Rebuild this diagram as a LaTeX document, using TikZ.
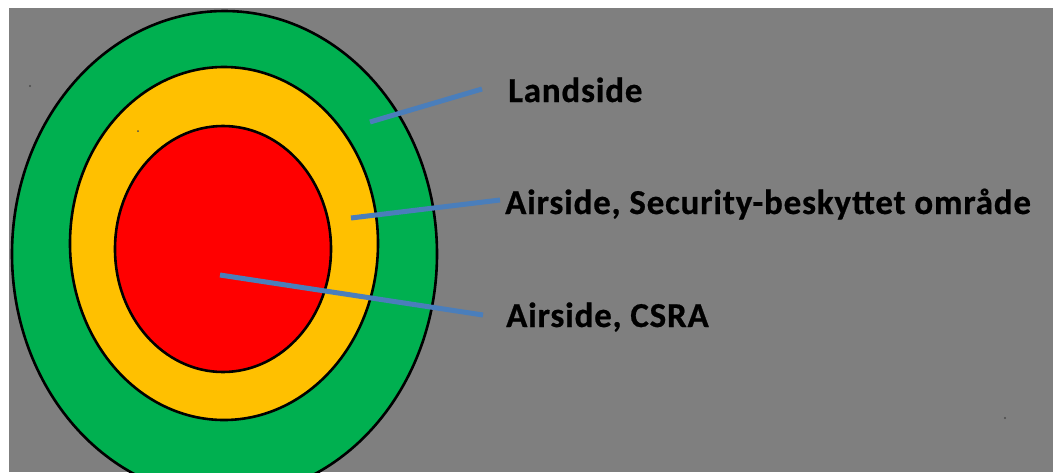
\documentclass[tikz,border=0pt]{standalone}
\usepackage{fontspec}
\newfontfamily\labelfont{Carlito}[BoldFont={Carlito Bold}, BoldFeatures={FakeBold=0.6, LetterSpace=2.3}]
\definecolor{panelgray}{HTML}{7F7F7F}
\definecolor{zonegreen}{HTML}{00B050}
\definecolor{zoneyellow}{HTML}{FFC000}
\definecolor{zonered}{HTML}{FF0000}
\definecolor{leaderblue}{HTML}{4A7EBB}
\tikzset{
  zone/.style={draw=black, line width=2.6pt},
  leader/.style={draw=leaderblue, line width=5pt},
  zonelabel/.style={anchor=base west, inner sep=0pt, font=\labelfont\bfseries\fontsize{35}{40}\selectfont},
  speck/.style={fill=black!70, draw=none}
}
\begin{document}
\begin{tikzpicture}[x=1pt, y=-1pt]
  % canvas and grey panel
  \fill[white] (0,0) rectangle (1053,472);
  \useasboundingbox (0,0) rectangle (1053,472);
  \begin{scope}
    \clip (9,8) rectangle (1053,472);
    \fill[panelgray] (9,8) rectangle (1053,472);
    % nested security zones
    \path[zone, fill=zonegreen]  (224.5,254) ellipse [x radius=212.5, y radius=243];
    \path[zone, fill=zoneyellow] (224,243.5) ellipse [x radius=154, y radius=176.5];
    \path[zone, fill=zonered]    (223,249)   ellipse [x radius=108, y radius=123];
  \end{scope}

  % stray specks
  \fill[speck] (30,86) circle (1.2);
  \fill[speck] (138,131) circle (1);
  \fill[speck] (1005,418) circle (1.2);

  % labels
  \node[zonelabel] (land) at (508,102) {Landside};
  \node[zonelabel] (secure) at (505,214) {Airside, Security-beskyttet område};
  \node[zonelabel] (csra) at (506,327) {Airside, CSRA};

  % leader lines
  \coordinate (landIn) at (370,122);
  \coordinate (landOut) at (482,89);
  \coordinate (secIn) at (351,218);
  \coordinate (secOut) at (500,200);
  \coordinate (csraIn) at (220,275);
  \coordinate (csraOut) at (483,315);
  \draw[leader] (landIn) -- (landOut);
  \draw[leader] (secIn) -- (secOut);
  \draw[leader] (csraIn) -- (csraOut);
\end{tikzpicture}
\end{document}
